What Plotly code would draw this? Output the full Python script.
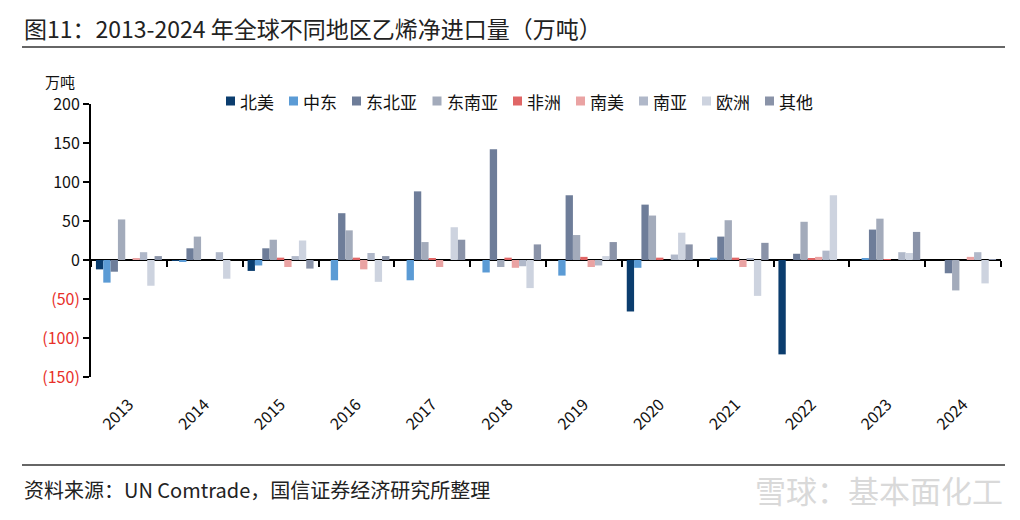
import plotly.graph_objects as go

# Net ethylene imports by region, 2013-2024 (10k tonnes)
years = [str(y) for y in range(2013, 2025)]
regions = ["北美", "中东", "东北亚", "东南亚", "非洲", "南美", "南亚", "欧洲", "其他"]

north_america = [-12, -1, -14, 0, 0, 0, 0, -66, 0, -121, 0, 0]
middle_east = [-29, -2, -7, -26, -26, -16, -20, -10, 3, 0, 2, 0]
ne_asia = [-15, 15, 15, 60, 88, 142, 83, 71, 30, 8, 39, -17]
se_asia = [52, 30, 26, 38, 23, -9, 32, 57, 51, 49, 53, -39]
africa = [0, 0, 3, 3, 2, 3, 4, 3, 3, 2, 1, 0]
south_america = [2, 0, -9, -12, -9, -10, -9, 0, -9, 4, 0, 4]
south_asia = [10, 10, 5, 9, 0, -8, -7, 7, 2, 12, 10, 10]
europe = [-33, -24, 25, -28, 42, -36, 5, 35, -46, 83, 9, -30]
others = [5, 0, -11, 5, 26, 20, 23, 20, 22, 0, 36, 1]

series = [north_america, middle_east, ne_asia, se_asia, africa,
          south_america, south_asia, europe, others]
colors = ["#0b3d6e", "#5b9bd5", "#6e7d99", "#a3abbb", "#e06666",
          "#eaa3a3", "#b0b8c9", "#cdd3df", "#8a93a8"]

y_ticks = [200, 150, 100, 50, 0, -50, -100, -150]
y_labels = ["200", "150", "100", "50", "0",
            '<span style="color:#e8302a">(50)</span>',
            '<span style="color:#e8302a">(100)</span>',
            '<span style="color:#e8302a">(150)</span>']

# plot area in pixels
L, R, T, B = 91, 1001, 104, 377
W, H = R - L, B - T


def px(x, y):
    return (x - L) / W, (B - y) / H


fig = go.Figure()
for name, vals, c in zip(regions, series, colors):
    fig.add_trace(go.Bar(x=years, y=vals, name=name, marker_color=c,
                         marker_line_width=0))

# invisible helper trace so the zero-line axis with boundary ticks is drawn
fig.add_trace(go.Scatter(x=years, y=[0] * len(years), xaxis="x2", mode="markers",
                         marker=dict(opacity=0), showlegend=False, hoverinfo="skip"))

font = "Noto Sans CJK SC"
fig.update_layout(
    width=1020, height=520,
    margin=dict(l=L, r=1020 - R, t=T, b=520 - B, autoexpand=False),
    paper_bgcolor="white", plot_bgcolor="white",
    font=dict(family=font, size=15, color="#111"),
    barmode="group", bargap=0.13, bargroupgap=0,
    showlegend=False,
    xaxis=dict(type="category", showline=False, ticks="", showgrid=False,
               zeroline=False, tickangle=-45, ticklabelstandoff=14,
               automargin=False, tickfont=dict(size=16, color="#111")),
    xaxis2=dict(type="category", overlaying="x", anchor="free",
                position=150 / 350, side="bottom", showline=False,
                ticks="outside", tickson="boundaries", ticklen=6, tickwidth=2,
                tickcolor="black", showticklabels=False, showgrid=False,
                automargin=False, range=[-0.5, 11.5]),
    yaxis=dict(range=[-150, 200], tickvals=y_ticks, ticktext=y_labels,
               showline=True, linecolor="black", linewidth=2,
               ticks="outside", ticklen=6, tickwidth=2, tickcolor="black",
               showgrid=False, zeroline=True, zerolinecolor="black",
               zerolinewidth=2, automargin=False, tickfont=dict(size=16)),
)

x0, _ = px(22, 0)
x1, _ = px(1005, 0)
annotations = [
    dict(text="图11：2013-2024 年全球不同地区乙烯净进口量（万吨）",
         x=x0, y=px(0, 28)[1], xanchor="left", yanchor="middle",
         font=dict(size=23, color="#222")),
    dict(text="万吨", x=px(60, 0)[0], y=px(0, 81)[1], xanchor="center",
         yanchor="middle", font=dict(size=15, color="#111")),
    dict(text="资料来源：UN Comtrade，国信证券经济研究所整理",
         x=x0, y=px(0, 490)[1], xanchor="left", yanchor="middle",
         font=dict(size=20, color="#222")),
    dict(text="雪球：基本面化工", x=x1, y=px(0, 490)[1], xanchor="right",
         yanchor="middle", font=dict(size=31, color="#d9d9d9")),
]

# legend row drawn as key squares + labels, like the original Excel legend
legend_y = px(0, 101)[1]
kx = 226
for name, c in zip(regions, colors):
    fig.add_shape(type="rect", xref="paper", yref="paper",
                  x0=px(kx, 0)[0], x1=px(kx + 9, 0)[0],
                  y0=px(0, 105.5)[1], y1=px(0, 96.5)[1],
                  fillcolor=c, line_width=0)
    annotations.append(dict(text=name, x=px(kx + 12, 0)[0], y=legend_y,
                            xanchor="left", yanchor="middle",
                            font=dict(size=17, color="#111")))
    kx += 8 + 6 + 17.5 * len(name) + 14

for a in annotations:
    a.update(xref="paper", yref="paper", showarrow=False)
fig.update_layout(annotations=annotations)

for yy in (47, 465):
    fig.add_shape(type="line", xref="paper", yref="paper", x0=x0, x1=x1,
                  y0=px(0, yy)[1], y1=px(0, yy)[1],
                  line=dict(color="#333", width=1.5))

fig.write_html("out.html", config={"displayModeBar": False},
               post_script="document.body.style.margin='0';")
